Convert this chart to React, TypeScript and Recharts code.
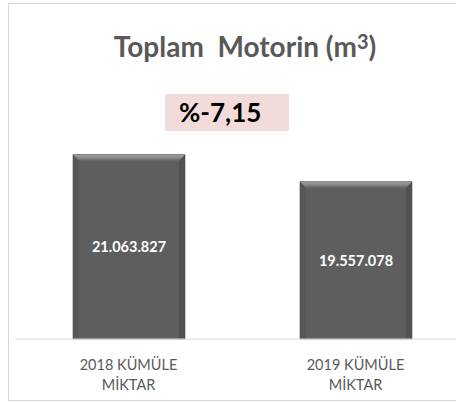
import React from 'react';
import { BarChart, Bar, XAxis, YAxis, LabelList } from 'recharts';

const categories = ['2018 KÜMÜLE|MİKTAR', '2019 KÜMÜLE|MİKTAR'];
const amounts = [21063827, 19557078];
const amountLabels = ['21.063.827', '19.557.078'];
const changeLabel = '%-7,15';

const data = categories.map((name, i) => ({ name, value: amounts[i], label: amountLabels[i] }));

const FONT = 'Lato, "Open Sans", sans-serif';

function BevelBar(props: any) {
  const { x, y, width, height, index } = props;
  const b = 6;
  const id = `bevel-top-${index}`;
  return (
    <g>
      <defs>
        <linearGradient id={id} x1="0" y1="0" x2="0" y2="1">
          <stop offset="0%" stopColor="#a6a6a6" />
          <stop offset="100%" stopColor="#666666" />
        </linearGradient>
      </defs>
      <rect x={x} y={y} width={width} height={height} fill="#5e5e5e" />
      <polygon
        points={`${x},${y + height} ${x + b},${y + height} ${x + b},${y + b} ${x},${y}`}
        fill="#575757"
      />
      <polygon
        points={`${x + width},${y + height} ${x + width - b},${y + height} ${x + width - b},${y + b} ${x + width},${y}`}
        fill="#525252"
      />
      <polygon
        points={`${x},${y} ${x + width},${y} ${x + width - b},${y + b} ${x + b},${y + b}`}
        fill={`url(#${id})`}
      />
      <rect x={x} y={y} width={width} height={height} fill="none" stroke="#4a4a4a" strokeWidth={0.6} />
    </g>
  );
}

function TwoLineTick(props: any) {
  const { x, y, payload } = props;
  const lines = String(payload.value).split('|');
  return (
    <text x={x} y={y} textAnchor="middle" fill="#595959" fontFamily={FONT} fontSize={14.5}>
      {lines.map((line, i) => (
        <tspan key={i} x={x} dy={i === 0 ? 23 : 20}>
          {line}
        </tspan>
      ))}
    </text>
  );
}

export default function App() {
  return (
    <div
      style={{
        position: 'absolute',
        left: 8,
        top: 3,
        width: 470,
        height: 396,
        border: '1px solid #d9d9d9',
        background: '#ffffff',
        fontFamily: FONT,
      }}
    >
      <div
        style={{
          position: 'absolute',
          left: 96,
          top: 24,
          width: 280,
          textAlign: 'center',
          fontSize: 28,
          fontWeight: 700,
          color: '#595959',
          whiteSpace: 'nowrap',
          lineHeight: '36px',
        }}
      >
        Toplam&nbsp; Motorin (m
        <span style={{ fontSize: 20, position: 'relative', top: -8 }}>3</span>)
      </div>
      <div
        style={{
          position: 'absolute',
          left: 156,
          top: 90,
          width: 124,
          height: 37,
          background: '#f2dcdb',
        }}
      >
        <span
          style={{
            position: 'absolute',
            left: 14,
            top: 2,
            fontSize: 26,
            fontWeight: 700,
            color: '#000000',
            lineHeight: '32px',
          }}
        >
          {changeLabel}
        </span>
      </div>
      <div style={{ position: 'absolute', left: 0, top: 0 }}>
        <BarChart
          width={470}
          height={396}
          data={data}
          margin={{ top: 116, right: 10, left: 6, bottom: 0 }}
        >
          <YAxis hide domain={[10800000, 23000000]} />
          <XAxis
            dataKey="name"
            axisLine={{ stroke: '#d9d9d9' }}
            tickLine={false}
            height={61}
            interval={0}
            tick={<TwoLineTick />}
          />
          <Bar dataKey="value" barSize={112} shape={<BevelBar />} isAnimationActive={false}>
            <LabelList
              dataKey="label"
              position="center"
              fill="#ffffff"
              fontFamily={FONT}
              fontWeight={700}
              fontSize={14.5}
            />
          </Bar>
        </BarChart>
      </div>
    </div>
  );
}
